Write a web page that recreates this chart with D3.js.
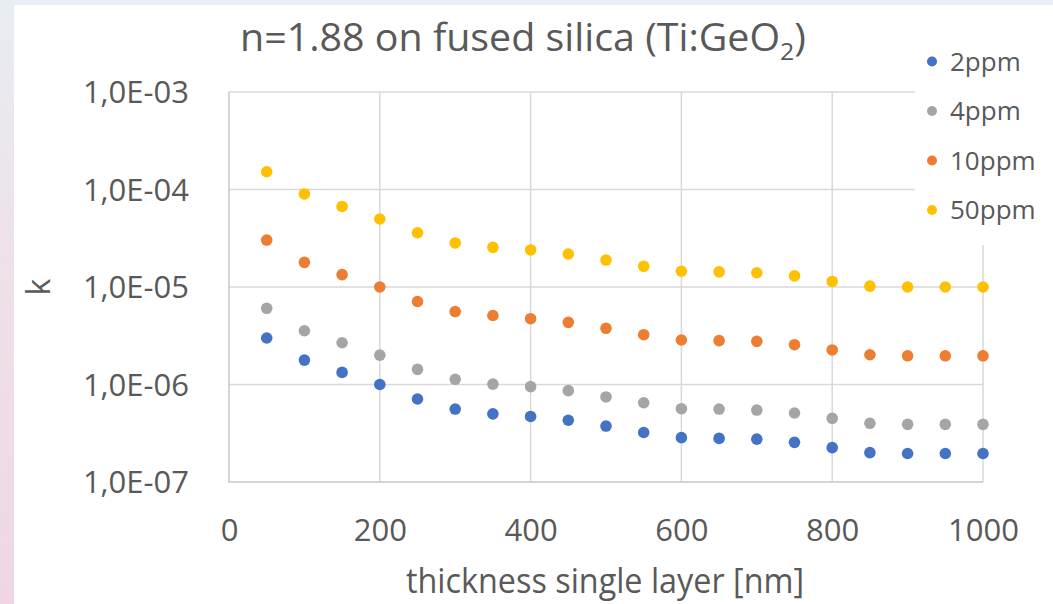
<!DOCTYPE html>
<html>
<head>
<meta charset="utf-8">
<script src="https://cdn.jsdelivr.net/npm/d3@7"></script>
<style>
  body { margin: 0; background: #fff; }
  text { font-family: "Open Sans", sans-serif; fill: #595959; }
</style>
</head>
<body>
<div id="chart"></div>
<script>
const thickness = [50, 100, 150, 200, 250, 300, 350, 400, 450, 500,
                   550, 600, 650, 700, 750, 800, 850, 900, 950, 1000];
const k2ppm  = [3.0e-6, 1.78e-6, 1.33e-6, 1.0e-6, 7.1e-7, 5.6e-7, 5.0e-7, 4.7e-7, 4.3e-7, 3.75e-7,
                3.22e-7, 2.85e-7, 2.8e-7, 2.75e-7, 2.55e-7, 2.25e-7, 2.0e-7, 1.96e-7, 1.96e-7, 1.96e-7];
const k4ppm  = [6.05e-6, 3.56e-6, 2.68e-6, 2.0e-6, 1.43e-6, 1.13e-6, 1.01e-6, 9.5e-7, 8.65e-7, 7.45e-7,
                6.5e-7, 5.65e-7, 5.6e-7, 5.47e-7, 5.1e-7, 4.5e-7, 4.0e-7, 3.9e-7, 3.9e-7, 3.9e-7];
const k10ppm = [3.03e-5, 1.79e-5, 1.34e-5, 1.0e-5, 7.1e-6, 5.6e-6, 5.1e-6, 4.73e-6, 4.34e-6, 3.77e-6,
                3.24e-6, 2.86e-6, 2.82e-6, 2.77e-6, 2.56e-6, 2.26e-6, 2.02e-6, 1.97e-6, 1.97e-6, 1.97e-6];
const k50ppm = [1.52e-4, 9.0e-5, 6.7e-5, 4.98e-5, 3.6e-5, 2.83e-5, 2.55e-5, 2.4e-5, 2.18e-5, 1.89e-5,
                1.63e-5, 1.45e-5, 1.43e-5, 1.4e-5, 1.3e-5, 1.14e-5, 1.02e-5, 1.0e-5, 1.0e-5, 1.0e-5];
const seriesNames = ["2ppm", "4ppm", "10ppm", "50ppm"];
const seriesColors = ["#4472C4", "#A5A5A5", "#ED7D31", "#FFC000"];
const xTicks = [0, 200, 400, 600, 800, 1000];
const yTicks = [1e-7, 1e-6, 1e-5, 1e-4, 1e-3];

const W = 1053, H = 604;
const svg = d3.select("#chart").append("svg")
    .attr("width", W).attr("height", H);

// page backdrop strips
const bg = svg.append("defs").append("linearGradient")
    .attr("id", "leftStrip").attr("x1", 0).attr("y1", 0).attr("x2", 0).attr("y2", 1);
bg.append("stop").attr("offset", "0%").attr("stop-color", "#e8ecf3");
bg.append("stop").attr("offset", "45%").attr("stop-color", "#efe0ea");
bg.append("stop").attr("offset", "100%").attr("stop-color", "#f0d6e5");
svg.append("rect").attr("x", 0).attr("y", 0).attr("width", W).attr("height", 5).attr("fill", "#e9edf5");
svg.append("rect").attr("x", 0).attr("y", 0).attr("width", 14).attr("height", H).attr("fill", "url(#leftStrip)");

const x = d3.scaleLinear().domain([0, 1000]).range([229, 983]);
const y = d3.scaleLog().domain([1e-7, 1e-3]).range([482, 92]);

// grid
svg.append("g")
    .selectAll("line").data(xTicks.slice(1)).enter().append("line")
    .attr("x1", d => x(d)).attr("x2", d => x(d))
    .attr("y1", y(1e-3)).attr("y2", y(1e-7))
    .attr("stroke", "#d9d9d9").attr("stroke-width", 1.5);
svg.append("g")
    .selectAll("line").data(yTicks.slice(1)).enter().append("line")
    .attr("x1", x(0)).attr("x2", x(1000))
    .attr("y1", d => y(d)).attr("y2", d => y(d))
    .attr("stroke", "#d9d9d9").attr("stroke-width", 1.5);
// plot frame left + bottom
svg.append("path")
    .attr("d", `M${x(0)},${y(1e-3)}V${y(1e-7)}H${x(1000)}`)
    .attr("fill", "none").attr("stroke", "#c8c8c8").attr("stroke-width", 1.5);

// axes labels via d3 axes
const fmt = d => "1,0E-" + String(Math.round(-Math.log10(d))).padStart(2, "0");
const yAxis = svg.append("g")
    .attr("transform", `translate(${x(0) - 37},0)`)
    .call(d3.axisLeft(y).tickValues(yTicks).tickFormat(fmt).tickSize(0));
yAxis.select(".domain").remove();
yAxis.selectAll("text").style("font-size", "31px").attr("fill", "#595959").attr("dy", "0.35em");

const xAxis = svg.append("g")
    .attr("transform", `translate(0,${y(1e-7) + 34})`)
    .call(d3.axisBottom(x).tickValues(xTicks).tickFormat(d3.format("d")).tickSize(0));
xAxis.select(".domain").remove();
xAxis.selectAll("text").style("font-size", "31px").attr("fill", "#595959").attr("dy", "0.71em");

// points
const series = [k2ppm, k4ppm, k10ppm, k50ppm];
series.forEach((vals, si) => {
    svg.append("g").selectAll("circle")
        .data(vals).enter().append("circle")
        .attr("cx", (d, i) => x(thickness[i]))
        .attr("cy", d => y(d))
        .attr("r", 5.8)
        .attr("fill", seriesColors[si]);
});

// legend
svg.append("rect").attr("x", 915).attr("y", 36).attr("width", W - 915).attr("height", 209).attr("fill", "#fff");
const leg = svg.append("g").selectAll("g").data(seriesNames).enter().append("g")
    .attr("transform", (d, i) => `translate(932,${61.5 + i * 49.5})`);
leg.append("circle").attr("r", 5).attr("fill", (d, i) => seriesColors[i]);
leg.append("text").attr("x", 18).attr("dy", "0.35em")
    .style("font-size", "26px").text(d => d);

// title
const title = svg.append("text")
    .attr("x", 240).attr("y", 51)
    .attr("textLength", 566).attr("lengthAdjust", "spacingAndGlyphs")
    .style("font-size", "38px");
title.append("tspan").text("n=1.88 on fused silica (Ti:GeO");
title.append("tspan").attr("dy", 9).style("font-size", "24px").text("2");
title.append("tspan").attr("dy", -9).text(")");

// axis titles
svg.append("text")
    .attr("x", 605).attr("y", 593).attr("text-anchor", "middle")
    .attr("textLength", 398).attr("lengthAdjust", "spacingAndGlyphs")
    .style("font-size", "34px").text("thickness single layer [nm]");
svg.append("text")
    .attr("transform", `translate(50,${y(1e-5)}) rotate(-90)`)
    .attr("text-anchor", "middle")
    .style("font-size", "32px").text("k");
</script>
</body>
</html>
